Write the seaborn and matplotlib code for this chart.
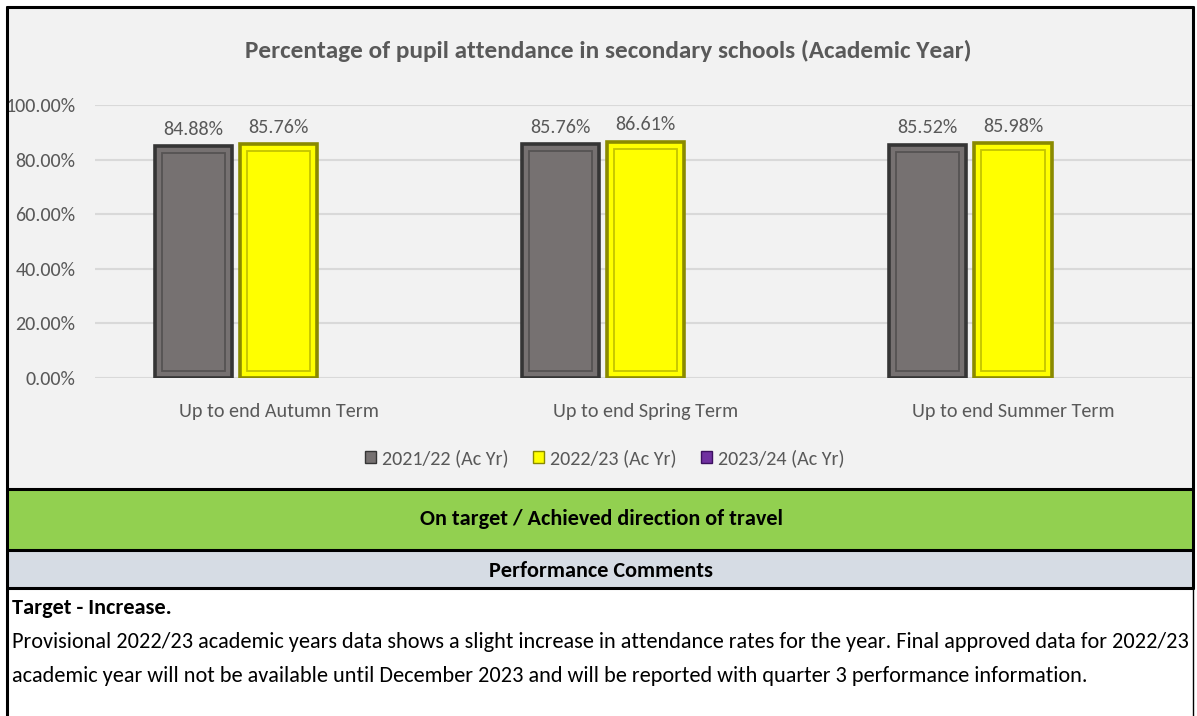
import pandas as pd
import numpy as np
import matplotlib.pyplot as plt
import seaborn as sns
from matplotlib import font_manager
from matplotlib.patches import Rectangle, Patch
from matplotlib.lines import Line2D

# ==================== DATA ====================
terms = ["Up to end Autumn Term", "Up to end Spring Term", "Up to end Summer Term"]
years = ["2021/22 (Ac Yr)", "2022/23 (Ac Yr)", "2023/24 (Ac Yr)"]
att_2122 = [0.8488, 0.8576, 0.8552]
att_2223 = [0.8576, 0.8661, 0.8598]
att_2324 = [np.nan, np.nan, np.nan]   # no data yet

title = "Percentage of pupil attendance in secondary schools (Academic Year)"
status_text = "On target / Achieved direction of travel"
comments_head = "Performance Comments"
target_text = "Target - Increase."
comment_lines = [
    "Provisional 2022/23 academic years data shows a slight increase in attendance rates for the year. Final approved data for 2022/23",
    "academic year will not be available until December 2023 and will be reported with quarter 3 performance information.",
]

# ==================== STYLE ====================
FACE = {"2021/22 (Ac Yr)": "#767171", "2022/23 (Ac Yr)": "#ffff00", "2023/24 (Ac Yr)": "#7030a0"}
EDGE = {"2021/22 (Ac Yr)": "#353535", "2022/23 (Ac Yr)": "#8a8a00", "2023/24 (Ac Yr)": "#3c1060"}
INNER = {"2021/22 (Ac Yr)": "#555252", "2022/23 (Ac Yr)": "#c4c400", "2023/24 (Ac Yr)": "#4c1a78"}
TXT = "#595959"
W, H = 1197, 716

sns.set_theme(style="white")
installed = {f.name for f in font_manager.fontManager.ttflist}
main_font = next(f for f in ["Carlito", "Open Sans", "DejaVu Sans"] if f in installed)
plt.rcParams["font.family"] = [main_font, "DejaVu Sans"]
# Calibri-like metrics when Carlito is there, otherwise squeeze a bit
k = 1.0 if main_font == "Carlito" else 0.86
FS = 14.5 * k      # axis / labels
FS_T = 18.2 * k    # chart title
FS_B = 16.0 * k    # table text below chart

df = pd.DataFrame({
    "term": terms * 3,
    "year": [years[0]] * 3 + [years[1]] * 3 + [years[2]] * 3,
    "value": att_2122 + att_2223 + att_2324,
})

fig = plt.figure(figsize=(W / 100, H / 100), dpi=100)
fig.patch.set_facecolor("white")

def fx(px):
    return px / W

def fy(py):
    return 1 - py / H

# chart panel background + bands
for top, bot, col in [(7, 489, "#f2f2f2"), (489, 550, "#92d050"), (550, 588, "#d6dce4")]:
    fig.patches.append(Rectangle((fx(7), fy(bot)), fx(1193 - 7), fy(top) - fy(bot),
                                 transform=fig.transFigure, facecolor=col, edgecolor="none", zorder=-2))

# ==================== BAR CHART ====================
ax = fig.add_axes([fx(95), fy(378), fx(1193 - 95), fy(105) - fy(378)])
ax.set_facecolor("none")
sns.barplot(data=df, x="term", y="value", hue="year", hue_order=years, order=terms,
            palette=FACE, saturation=1, width=0.696, gap=0.094, ax=ax, legend=False, zorder=3)

ax.set_ylim(0, 1)
ax.set_xlim(-0.5, 2.49)
ticks = np.arange(0, 1.01, 0.2)
ax.set_yticks(ticks)
ax.set_yticklabels([f"{v:.2%}" for v in ticks])
ax.yaxis.grid(True, color="#d9d9d9", lw=1.5, zorder=0)
ax.set_axisbelow(True)
for s in ax.spines.values():
    s.set_visible(False)
ax.set_xlabel("")
ax.set_ylabel("")
ax.tick_params(axis="y", labelsize=FS, labelcolor=TXT, pad=14, length=0)
ax.tick_params(axis="x", labelsize=FS, labelcolor=TXT, pad=18, length=0)

# bevel look + labels
px_x = 1 / 367.5
px_y = 1 / 273
for cont, yr in zip(ax.containers, years):
    for bar in cont:
        h = bar.get_height()
        if np.isnan(h) or h == 0:
            continue
        bar.set_edgecolor(EDGE[yr])
        bar.set_linewidth(2.6)
        x0, w = bar.get_x(), bar.get_width()
        ax.add_patch(Rectangle((x0 + 7 * px_x, 7 * px_y), w - 14 * px_x, h - 14 * px_y,
                               facecolor="none", edgecolor=INNER[yr], lw=1.3, zorder=4))
    vals = [b.get_height() for b in cont]
    ax.bar_label(cont, labels=["" if np.isnan(v) else f"{v:.2%}" for v in vals],
                 padding=6, fontsize=FS, color=TXT)

# legend
handles = [Patch(facecolor=FACE[y], edgecolor=EDGE[y], lw=1) for y in years]
fig.legend(handles, years, loc="center", bbox_to_anchor=(fx(605), fy(458)), ncol=3,
           frameon=False, fontsize=FS, labelcolor=TXT, handlelength=0.55, handleheight=0.55,
           handletextpad=0.3, columnspacing=1.2)

fig.text(fx(608), fy(51), title, ha="center", va="center", fontsize=FS_T, fontweight="bold", color=TXT)

# ==================== BANDS TEXT ====================
fig.text(fx(601), fy(519), status_text, ha="center", va="center", fontsize=FS_B, fontweight="bold", color="black")
fig.text(fx(601), fy(571), comments_head, ha="center", va="center", fontsize=FS_B, fontweight="bold", color="black")
fig.text(fx(12), fy(608), target_text, ha="left", va="center", fontsize=FS_B, fontweight="bold", color="black")
for i, line in enumerate(comment_lines):
    fig.text(fx(12), fy(642 + 34 * i), line, ha="left", va="center", fontsize=FS_B, color="black")

# frame lines
for y in [7, 489, 550, 588]:
    fig.add_artist(Line2D([fx(7), fx(1193)], [fy(y), fy(y)], color="black", lw=2.2, transform=fig.transFigure))
fig.add_artist(Line2D([fx(7), fx(7)], [fy(7), fy(716)], color="black", lw=2.2, transform=fig.transFigure))
fig.add_artist(Line2D([fx(1193), fx(1193)], [fy(7), fy(588)], color="black", lw=2.2, transform=fig.transFigure))
fig.add_artist(Line2D([fx(1193), fx(1193)], [fy(588), fy(716)], color="black", lw=1.0, transform=fig.transFigure))

plt.savefig("out.png", dpi=100)
